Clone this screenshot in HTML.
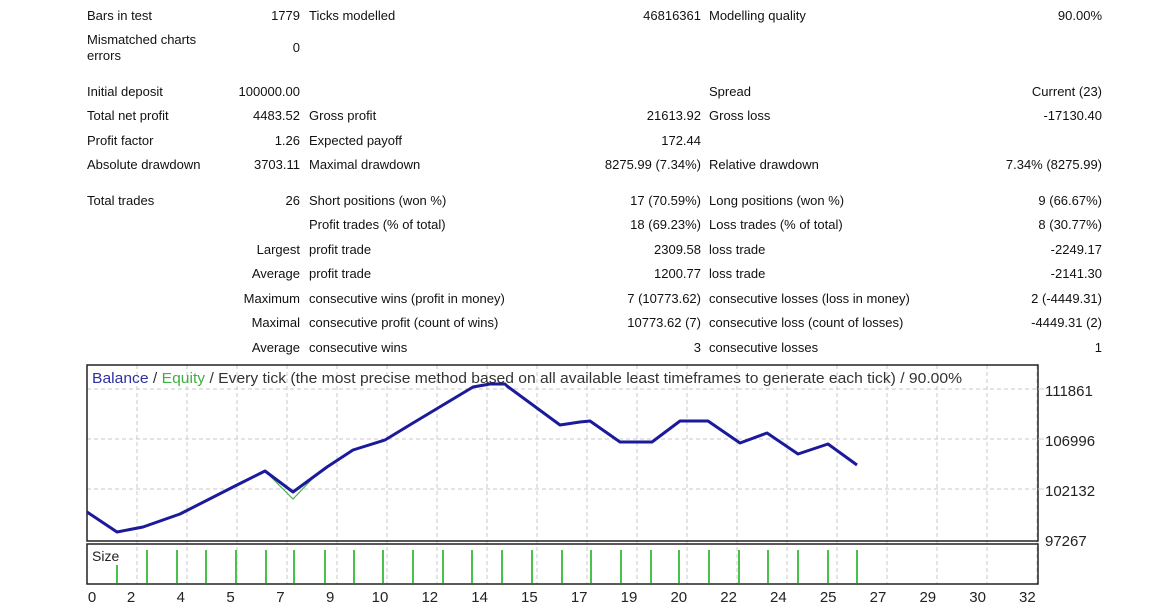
<!DOCTYPE html>
<html><head><meta charset="utf-8"><style>
body{margin:0;width:1155px;height:614px;background:#fff;position:relative;overflow:hidden;font-family:"Liberation Sans","DejaVu Sans",sans-serif;font-size:13px;color:#111}
.t{position:absolute;line-height:16px;white-space:nowrap}
.r{text-align:right}
</style></head><body>
<div id="tbl"></div>
<script>
const rows=[
[15,"Bars in test","1779","Ticks modelled","46816361","Modelling quality","90.00%"],
[91,"Initial deposit","100000.00","","","Spread","Current (23)"],
[115,"Total net profit","4483.52","Gross profit","21613.92","Gross loss","-17130.40"],
[140,"Profit factor","1.26","Expected payoff","172.44","",""],
[164,"Absolute drawdown","3703.11","Maximal drawdown","8275.99 (7.34%)","Relative drawdown","7.34% (8275.99)"],
[200,"Total trades","26","Short positions (won %)","17 (70.59%)","Long positions (won %)","9 (66.67%)"],
[224,"","","Profit trades (% of total)","18 (69.23%)","Loss trades (% of total)","8 (30.77%)"],
[249,"","Largest","profit trade","2309.58","loss trade","-2249.17"],
[273,"","Average","profit trade","1200.77","loss trade","-2141.30"],
[298,"","Maximum","consecutive wins (profit in money)","7 (10773.62)","consecutive losses (loss in money)","2 (-4449.31)"],
[322,"","Maximal","consecutive profit (count of wins)","10773.62 (7)","consecutive loss (count of losses)","-4449.31 (2)"],
[347,"","Average","consecutive wins","3","consecutive losses","1"]];
let h="";
for(const r of rows){const y=r[0]-7;
h+=`<div class="t" style="left:87px;top:${y}px">${r[1]}</div>`;
h+=`<div class="t r" style="right:${1155-300}px;top:${y}px">${r[2]}</div>`;
h+=`<div class="t" style="left:309px;top:${y}px">${r[3]}</div>`;
h+=`<div class="t r" style="right:${1155-701}px;top:${y}px">${r[4]}</div>`;
h+=`<div class="t" style="left:709px;top:${y}px">${r[5]}</div>`;
h+=`<div class="t r" style="right:${1155-1102}px;top:${y}px">${r[6]}</div>`;}
h+=`<div class="t" style="left:87px;top:32px">Mismatched charts<br>errors</div><div class="t r" style="right:855px;top:40px">0</div>`;
document.getElementById('tbl').innerHTML=h;
</script>
<svg width="1155" height="614" style="position:absolute;left:0;top:0" font-family="Liberation Sans, DejaVu Sans, sans-serif">
<g stroke="#c8c8c8" stroke-dasharray="4,3" stroke-width="1">
<line x1="87" y1="389" x2="1038" y2="389"/><line x1="87" y1="439" x2="1038" y2="439"/><line x1="87" y1="489" x2="1038" y2="489"/>
<g id="vg"></g>
</g>
<rect x="87" y="365" width="951" height="176" fill="none" stroke="#222" stroke-width="1.5"/>
<rect x="87" y="544" width="951" height="40" fill="none" stroke="#222" stroke-width="1.5"/>
<g stroke="#c8c8c8" stroke-width="1"><line x1="1038" y1="389" x2="1044" y2="389"/><line x1="1038" y1="439" x2="1044" y2="439"/><line x1="1038" y1="489" x2="1044" y2="489"/></g>
<text x="92" y="383" font-size="15" textLength="870" lengthAdjust="spacingAndGlyphs"><tspan fill="#3030a0">Balance</tspan><tspan fill="#333"> / </tspan><tspan fill="#40b040">Equity</tspan><tspan fill="#333"> / Every tick (the most precise method based on all available least timeframes to generate each tick) / 90.00%</tspan></text>
<polyline fill="none" stroke="#4caf50" stroke-width="1.2" points="265,471 293,499 313,478"/>
<polyline fill="none" stroke="#1a1a9a" stroke-width="3" stroke-linejoin="round" points="87,512 117,532 143,527 180,514 237,485 265,471 293,492 327,467 353,450 385,440 413,423 443,405 473,387 490,384 505,384 507,386 560,425 580,422 590,421 620,442 652,442 680,421 708,421 740,443 767,433 798,454 828,444 857,465"/>
<g fill="#222" font-size="15"><text x="1045" y="396">111861</text><text x="1045" y="446">106996</text><text x="1045" y="496">102132</text><text x="1045" y="546">97267</text></g>
<text x="92" y="561" font-size="14" fill="#222">Size</text>
<g id="bars" stroke="#4cc04c" stroke-width="2"></g>
<g id="xl" font-size="15" fill="#222" text-anchor="middle"></g>
</svg>
<script>
let v="",xl="";const labs=[0,2,4,5,7,9,10,12,14,15,17,19,20,22,24,25,27,29,30,32];
for(let i=0;i<19;i++){const x=137+i*50;v+=`<line x1="${x}" y1="365" x2="${x}" y2="584"/>`;}
labs.forEach((l,i)=>{const x=i==0?92:131+(i-1)*49.8;xl+=`<text x="${x}" y="602">${l}</text>`});
document.getElementById('vg').innerHTML=v;document.getElementById('xl').innerHTML=xl;
const bx=[147,177,206,236,266,294,325,354,383,413,443,472,502,532,562,591,621,651,679,709,739,768,798,828,857];
let b=`<line x1="117" y1="565" x2="117" y2="583"/>`;
bx.forEach(x=>b+=`<line x1="${x}" y1="550" x2="${x}" y2="583"/>`);
document.getElementById('bars').innerHTML=b;
</script>
</body></html>
